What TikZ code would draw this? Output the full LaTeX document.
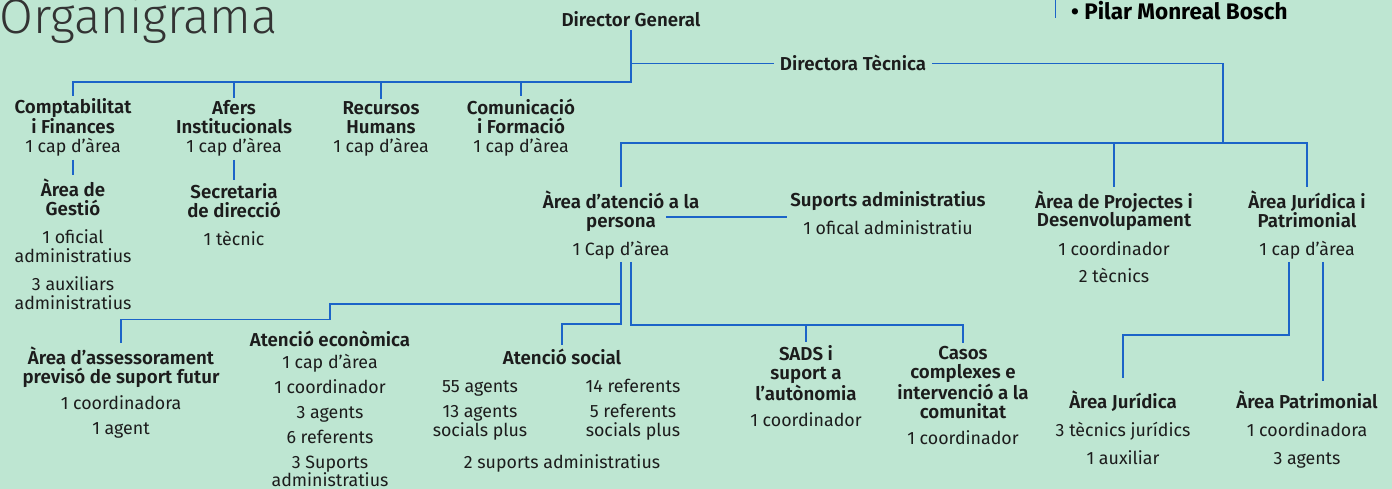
\documentclass[tikz,border=0pt]{standalone}
\usepackage{fontspec}
\setmainfont{Fira Sans}[BoldFont={Fira Sans SemiBold}]
\newfontfamily\lightfont{Fira Sans Light}
\newfontfamily\heavyfont{Fira Sans Bold}
\usetikzlibrary{positioning}
\definecolor{mint}{RGB}{190,230,210}
\definecolor{lineblue}{RGB}{28,100,200}
\definecolor{ink}{RGB}{28,28,28}
\tikzset{
  link/.style={draw=lineblue,line width=1.3pt},
  % anchor base = baseline of the last line
  unit/.style={align=center,anchor=base,inner sep=3pt,text=ink,
    font=\fontsize{17.8}{19}\selectfont},
}
\newcommand\hd[1]{{\fontsize{18.7}{19}\selectfont\bfseries #1}}

\begin{document}
\begin{tikzpicture}[x=1pt,y=-1pt]
  \fill[mint] (0,0) rectangle (1392,489);
  \useasboundingbox (0,0) rectangle (1392,489);
  % title and direction
  \node[unit,anchor=base west,text=ink!90,font=\lightfont\fontsize{49}{52}\selectfont] (t) at (-4,34) {Organigrama};
  \node[unit] (dg) at (631,27) {\hd{Director General}};
  \node[unit,inner xsep=6pt] (dt) at (853,71) {\hd{Directora Tècnica}};
  \draw[lineblue,line width=1pt] (1055,0) -- (1055,18);
  \node[unit,anchor=base west,text=black,font=\heavyfont\fontsize{22.5}{24}\selectfont] (pm) at (1068,20) {• Pilar Monreal Bosch};
  % first level
  \node[unit] (cf) at (73,153) {\hd{Comptabilitat}\\\hd{i Finances}\\1 cap d’àrea};
  \node[unit] (ai) at (234,153) {\hd{Afers}\\\hd{Institucionals}\\1 cap d’àrea};
  \node[unit] (rh) at (381,153) {\hd{Recursos}\\\hd{Humans}\\1 cap d’àrea};
  \node[unit] (ci) at (521,153) {\hd{Comunicació}\\\hd{i Formació}\\1 cap d’àrea};
  \node[unit] (ag) at (73,309) {\hd{Àrea de}\\\hd{Gestió}\\[9pt]1 oficial\\administratius\\[9pt]3 auxiliars\\administratius};
  \node[unit] (sd) at (234,245) {\hd{Secretaria}\\\hd{de direcció}\\[9pt]1 tècnic};
  % second level
  \node[unit] (aap) at (621,255) {\hd{Àrea d’atenció a la}\\\hd{persona}\\[9pt]1 Cap d’àrea};
  \node[unit] (sa) at (888,234) {\hd{Suports administratius}\\[9pt]1 ofical administratiu};
  \node[unit] (apd) at (1114,282) {\hd{Àrea de Projectes i}\\\hd{Desenvolupament}\\[9pt]1 coordinador\\[8pt]2 tècnics};
  \node[unit] (ajp) at (1307,255) {\hd{Àrea Jurídica i}\\\hd{Patrimonial}\\[9pt]1 cap d’àrea};
  % third level
  \node[unit] (aas) at (121,434) {\hd{Àrea d’assessorament}\\\hd{previsó de suport futur}\\[7pt]1 coordinadora\\[6pt]1 agent};
  \node[unit] (ae) at (330,486) {\hd{Atenció econòmica}\\[3pt]1 cap d’àrea\\[6pt]1 coordinador\\[6pt]3 agents\\[6pt]6 referents\\[6pt]3 Suports\\[-1pt]administratius};
  \node[unit] (as) at (562,364) {\hd{Atenció social}};
  \node[unit] (asl) at (480,436) {55 agents\\[6pt]13 agents\\socials plus};
  \node[unit] (asr) at (633,436) {14 referents\\[6pt]5 referents\\socials plus};
  \node[unit] (asb) at (562,468) {2 suports administratius};
  \node[unit] (sads) at (806,426) {\hd{SADS i}\\\hd{suport a}\\\hd{l’autònomia}\\[7pt]1 coordinador};
  \node[unit] (cc) at (963,444) {\hd{Casos}\\\hd{complexes e}\\\hd{intervenció a la}\\\hd{comunitat}\\[7pt]1 coordinador};
  \node[unit] (aj) at (1123,464) {\hd{Àrea Jurídica}\\[9pt]3 tècnics jurídics\\[9pt]1 auxiliar};
  \node[unit] (ap) at (1307,464) {\hd{Àrea Patrimonial}\\[9pt]1 coordinadora\\[9pt]3 agents};
  % connectors
  \draw[link] (dg.south) |- (cf.north |- 0,82) -- (cf.north);
  \foreach \n in {ai,rh,ci} \draw[link] (\n.north |- 0,82) -- (\n.north);
  \draw[link] (cf) -- (ag);
  \draw[link] (ai) -- (sd);
  \draw[link] (dg.south |- dt.west) -- (dt.west);
  \coordinate (tj) at (1223,143);
  \draw[link] (dt.east) -| (tj);
  \draw[link] (aap.north) |- (ajp.north |- tj) -- (ajp.north);
  \draw[link] (apd.north |- tj) -- (apd.north);
  \coordinate (s0) at ([xshift=45pt]aap.base);
  \draw[link] (s0 |- 0,217) -- (sa.west |- 0,217);
  \draw[link] (aap.south) |- (as.north |- 0,324) -- (as.north);
  \draw[link] (aap.south |- 0,304) -| ([yshift=8pt]ae.north) -| (aas.north);
  \coordinate (r0) at ([xshift=10pt]aap.south);
  \draw[link] (r0) |- (cc.north |- 0,325) -- (cc.north);
  \draw[link] (sads.north |- 0,325) -- (sads.north);
  \coordinate (j0) at ([xshift=-18pt]ajp.south);
  \coordinate (p0) at ([xshift=16pt]ajp.south);
  \draw[link] (j0) |- (aj.north |- 0,335) -- ([yshift=9pt]aj.north);
  \draw[link,shorten >=6pt] (p0) -- (p0 |- ap.north);
\end{tikzpicture}
\end{document}
